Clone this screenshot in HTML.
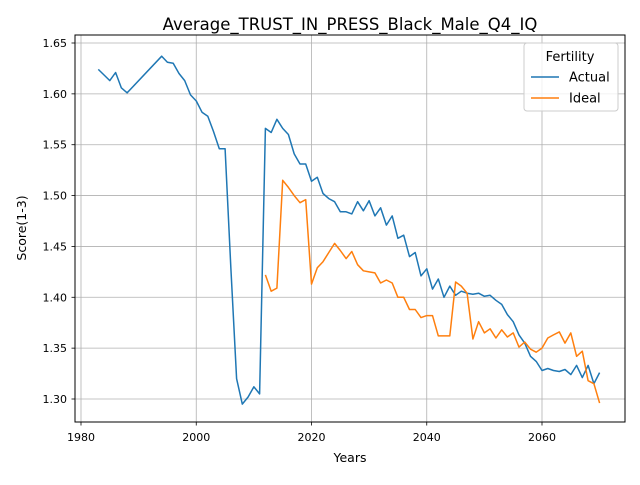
<!DOCTYPE html>
<html><head><meta charset="utf-8"><style>
body{margin:0;background:#fff;font-family:"Liberation Sans","DejaVu Sans",sans-serif;}
svg text{font-family:"DejaVu Sans","Liberation Sans",sans-serif;}
</style></head><body>
<svg id="chart" width="640" height="480">
<rect width="640" height="480" fill="#fff"/>
<g id="grid"></g>
<g id="axes"></g>
<g id="series"></g>
<rect x="75" y="35" width="550" height="387" fill="none" stroke="#000" stroke-width="1"/>
<text x="350" y="30" font-size="16.5" text-anchor="middle">Average_TRUST_IN_PRESS_Black_Male_Q4_IQ</text>
<text x="350" y="462" font-size="12.5" text-anchor="middle">Years</text>
<text x="26" y="228" font-size="12.5" text-anchor="middle" transform="rotate(-90 26 228)">Score(1-3)</text>
<g>
<rect x="524" y="43" width="94" height="68" rx="3" fill="#fff" fill-opacity="0.8" stroke="#ccc"/>
<text x="570" y="61" font-size="13" text-anchor="middle">Fertility</text>
<line x1="531" y1="77" x2="559" y2="77" stroke="#1f77b4" stroke-width="1.5"/>
<text x="569" y="81.5" font-size="13">Actual</text>
<line x1="531" y1="98" x2="559" y2="98" stroke="#ff7f0e" stroke-width="1.5"/>
<text x="569" y="102.5" font-size="13">Ideal</text>
</g>
</svg>
<script>
const xTicks=[1980,2000,2020,2040,2060];
const yTicks=[1.30,1.35,1.40,1.45,1.50,1.55,1.60,1.65];
const actualYears=[1983,1985,1986,1987,1988,1994,1995,1996,1997,1998,1999,2000,2001,2002,2003,2004,2005,2006,2007,2008,2009,2010,2011,2012,2013,2014,2015,2016,2017,2018,2019,2020,2021,2022,2023,2024,2025,2026,2027,2028,2029,2030,2031,2032,2033,2034,2035,2036,2037,2038,2039,2040,2041,2042,2043,2044,2045,2046,2047,2048,2049,2050,2051,2052,2053,2054,2055,2056,2057,2058,2059,2060,2061,2062,2063,2064,2065,2066,2067,2068,2069,2070];
const actualValues=[1.624,1.613,1.621,1.606,1.601,1.637,1.631,1.630,1.620,1.613,1.599,1.593,1.582,1.578,1.563,1.546,1.546,1.43,1.320,1.295,1.302,1.312,1.305,1.566,1.562,1.575,1.566,1.560,1.541,1.531,1.531,1.514,1.518,1.502,1.497,1.494,1.484,1.484,1.482,1.494,1.485,1.495,1.480,1.488,1.471,1.480,1.458,1.461,1.440,1.444,1.421,1.428,1.408,1.418,1.400,1.411,1.402,1.406,1.404,1.403,1.404,1.401,1.402,1.397,1.393,1.383,1.376,1.363,1.355,1.342,1.337,1.328,1.330,1.328,1.327,1.329,1.324,1.333,1.321,1.333,1.315,1.326];
const idealYears=[2012,2013,2014,2015,2016,2017,2018,2019,2020,2021,2022,2023,2024,2025,2026,2027,2028,2029,2030,2031,2032,2033,2034,2035,2036,2037,2038,2039,2040,2041,2042,2043,2044,2045,2046,2047,2048,2049,2050,2051,2052,2053,2054,2055,2056,2057,2058,2059,2060,2061,2062,2063,2064,2065,2066,2067,2068,2069,2070];
const idealValues=[1.422,1.406,1.409,1.515,1.508,1.500,1.493,1.496,1.413,1.429,1.435,1.444,1.453,1.446,1.438,1.445,1.432,1.426,1.425,1.424,1.414,1.417,1.414,1.400,1.400,1.388,1.388,1.380,1.382,1.382,1.362,1.362,1.362,1.415,1.411,1.404,1.359,1.376,1.365,1.369,1.360,1.368,1.361,1.365,1.351,1.356,1.349,1.346,1.350,1.360,1.363,1.366,1.355,1.365,1.342,1.347,1.318,1.315,1.296];
const NS='http://www.w3.org/2000/svg';
function xs(v){return 81+(v-1980)*(542-81)/80;}
function ys(v){return 399+(v-1.30)*(43-399)/0.35;}
function mk(tag,attrs,parent){const e=document.createElementNS(NS,tag);for(const k in attrs)e.setAttribute(k,attrs[k]);parent.appendChild(e);return e;}
const grid=document.getElementById('grid'),axes=document.getElementById('axes'),series=document.getElementById('series');
xTicks.forEach(t=>{const x=xs(t);
 const g=mk('line',{x1:x,x2:x,y1:35,y2:422,stroke:'#b0b0b0','stroke-width':0.8},grid);
 
 
 mk('line',{x1:x,x2:x,y1:422,y2:425.5,stroke:'#000','stroke-width':0.8},axes);
 const tx=mk('text',{x:x,y:441,'font-size':11,'text-anchor':'middle'},axes);tx.textContent=t;
 
 
});
yTicks.forEach(t=>{const y=ys(t);
 const g=mk('line',{x1:75,x2:625,y1:y,y2:y,stroke:'#b0b0b0','stroke-width':0.8},grid);
 
 
 mk('line',{x1:71.5,x2:75,y1:y,y2:y,stroke:'#000','stroke-width':0.8},axes);
 const tx=mk('text',{x:67,y:y+4,'font-size':11,'text-anchor':'end'},axes);tx.textContent=t.toFixed(2);
 
 
});
function line(yrs,vals,color,name){
 const d=yrs.map((yr,i)=>(i?'L':'M')+xs(yr).toFixed(1)+','+ys(vals[i]).toFixed(1)).join(' ');
 const p=mk('path',{d:d,fill:'none',stroke:color,'stroke-width':1.5,'stroke-linejoin':'round'},series);
 
 
}
line(actualYears,actualValues,'#1f77b4','actual-line');
line(idealYears,idealValues,'#ff7f0e','ideal-line');
</script>
</body></html>
